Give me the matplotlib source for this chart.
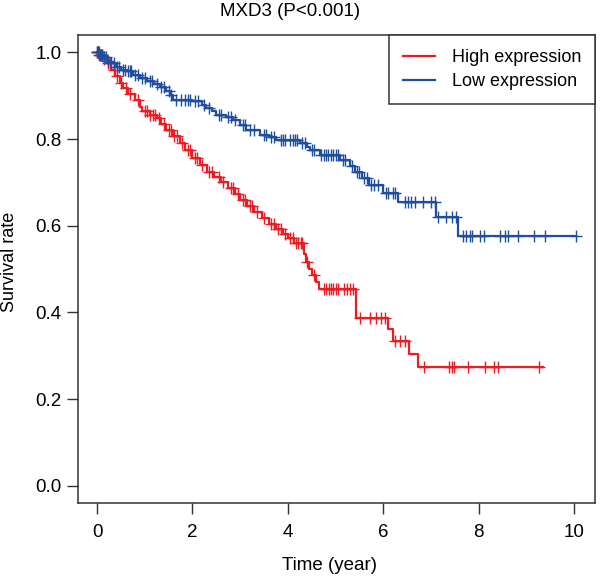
import matplotlib
matplotlib.use("Agg")
import matplotlib.pyplot as plt
import numpy as np

# --- data ---
# step curves: times of drops and survival after each drop
high_times = [0.05, 0.12, 0.2, 0.3, 0.38, 0.48, 0.55, 0.65, 0.8, 0.9, 0.95, 1.1, 1.25,
              1.35, 1.45, 1.6, 1.73, 1.85, 2.0, 2.15, 2.3, 2.45, 2.6, 2.75, 2.9, 3.0,
              3.15, 3.3, 3.45, 3.6, 3.75, 3.9, 4.0, 4.12, 4.33, 4.38, 4.45, 4.5, 4.6,
              4.65, 5.42, 6.1, 6.2, 6.54, 6.73]
high_surv = [0.995, 0.985, 0.975, 0.96, 0.945, 0.93, 0.918, 0.905, 0.891, 0.875, 0.864,
             0.855, 0.848, 0.835, 0.821, 0.806, 0.79, 0.775, 0.756, 0.74, 0.725, 0.712,
             0.7, 0.688, 0.672, 0.659, 0.645, 0.632, 0.618, 0.605, 0.592, 0.58, 0.572,
             0.561, 0.535, 0.517, 0.5, 0.486, 0.47, 0.455, 0.386, 0.362, 0.335, 0.305,
             0.275]
high_end = 9.35
high_censor = [0.0, 0.02, 0.05, 0.08, 0.1, 0.15, 0.22, 0.28, 0.35, 0.42, 0.5, 0.6, 0.7,
               0.85, 1.0, 1.05, 1.12, 1.18, 1.22, 1.3, 1.4, 1.5, 1.55, 1.62, 1.68, 1.78,
               1.9, 1.95, 2.05, 2.1, 2.2, 2.35, 2.4, 2.55, 2.65, 2.8, 2.85, 2.95, 3.05,
               3.1, 3.2, 3.25, 3.35, 3.5, 3.65, 3.7, 3.8, 3.85, 3.95, 4.05, 4.1, 4.18,
               4.22, 4.27, 4.3, 4.4, 4.55, 4.76, 4.81, 4.86, 4.9, 4.95, 5.0, 5.05, 5.18,
               5.23, 5.3, 5.37, 5.51, 5.72, 5.84, 5.96, 6.03, 6.24, 6.35, 6.45, 6.85,
               7.38, 7.44, 7.49, 7.78, 8.13, 8.32, 8.41, 9.26]

low_times = [0.05, 0.12, 0.2, 0.27, 0.4, 0.5, 0.62, 0.75, 0.9, 1.05, 1.2, 1.31, 1.45,
             1.52, 1.6, 2.0, 2.2, 2.29, 2.4, 2.5, 2.7, 2.85, 3.0, 3.13, 3.41, 3.6, 3.76,
             4.25, 4.4, 4.46, 4.67, 5.1, 5.3, 5.4, 5.55, 5.7, 6.0, 6.3, 7.1, 7.57]
low_surv = [0.995, 0.99, 0.98, 0.975, 0.967, 0.96, 0.956, 0.948, 0.941, 0.935, 0.928,
            0.921, 0.91, 0.902, 0.891, 0.887, 0.878, 0.871, 0.864, 0.856, 0.85, 0.844,
            0.832, 0.821, 0.81, 0.804, 0.798, 0.79, 0.782, 0.775, 0.763, 0.752, 0.738,
            0.724, 0.71, 0.694, 0.675, 0.655, 0.621, 0.576]
low_end = 10.05
low_censor = [0.0, 0.02, 0.04, 0.06, 0.08, 0.1, 0.14, 0.18, 0.22, 0.3, 0.35, 0.42, 0.45,
              0.55, 0.58, 0.65, 0.7, 0.72, 0.8, 0.85, 0.95, 1.0, 1.1, 1.15, 1.25, 1.35,
              1.4, 1.5, 1.55, 1.65, 1.75, 1.85, 1.9, 1.95, 2.05, 2.12, 2.25, 2.35, 2.55,
              2.6, 2.75, 2.8, 2.9, 3.05, 3.1, 3.2, 3.3, 3.5, 3.55, 3.65, 3.7, 3.85, 3.9,
              3.95, 4.05, 4.1, 4.15, 4.2, 4.3, 4.35, 4.5, 4.55, 4.7, 4.75, 4.8, 4.85,
              4.9, 4.95, 5.0, 5.05, 5.15, 5.2, 5.35, 5.45, 5.5, 5.6, 5.65, 5.75, 5.8,
              5.9, 6.05, 6.1, 6.2, 6.25, 6.45, 6.52, 6.59, 6.66, 6.83, 7.01, 7.08, 7.14,
              7.31, 7.45, 7.52, 7.67, 7.74, 7.81, 7.87, 8.02, 8.11, 8.44, 8.55, 8.62,
              8.83, 9.16, 9.39, 10.05]

labels = ["High expression", "Low expression"]
title = "MXD3 (P<0.001)"
x_ticks = [0, 2, 4, 6, 8, 10]
y_ticks = [0.0, 0.2, 0.4, 0.6, 0.8, 1.0]

RED = '#EC1C24'
BLUE = '#1F4E9E'
AXIS_COLOR = '#333333'

plt.rcParams['font.family'] = ['Liberation Sans', 'DejaVu Sans']
plt.rcParams['font.size'] = 13


def step_curve(times, surv, end):
    t = np.array([0.0] + list(times) + [end])
    s = np.array([1.0] + list(surv) + [surv[-1]])
    return t, s


def surv_at(times, surv, pts):
    t = np.array(times)
    s = np.array([1.0] + list(surv))
    idx = np.searchsorted(t, np.array(pts), side='right')
    return s[idx]


fig = plt.figure(figsize=(6.02, 5.80), dpi=100)
ax = fig.add_axes([78 / 602, 1 - 503 / 580, (595 - 78) / 602, (503 - 35) / 580])

groups = [
    (high_times, high_surv, high_end, high_censor, RED, labels[0]),
    (low_times, low_surv, low_end, low_censor, BLUE, labels[1]),
]
for times, surv, end, cens, color, lab in groups:
    t, s = step_curve(times, surv, end)
    ax.step(t, s, where='post', color=color, lw=1.6, label=lab)
    ax.plot(cens, surv_at(times, surv, cens), ls='none', marker='+',
            ms=8.5, mew=1.0, color=color)

ax.set_xlim(-0.40, 10.44)
ax.set_ylim(-0.04, 1.04)
ax.set_xticks(x_ticks)
ax.set_yticks(y_ticks)
ax.set_xticklabels([str(v) for v in x_ticks])
ax.set_yticklabels([f"{v:.1f}" for v in y_ticks])
ax.tick_params(direction='out', length=8, width=1.0, color=AXIS_COLOR, labelsize=13.5)
ax.tick_params(axis='x', pad=7)
ax.tick_params(axis='y', pad=4)
for sp in ax.spines.values():
    sp.set_color(AXIS_COLOR)
    sp.set_linewidth(1.1)

leg = ax.legend(loc='upper right', borderaxespad=0, fancybox=False, fontsize=13,
                handlelength=1.8, handletextpad=0.9, labelspacing=0.38, borderpad=0.78,
                edgecolor=AXIS_COLOR, framealpha=1)
leg.get_frame().set_linewidth(1.1)

fig.text(290 / 602, 1 - 12 / 580, title, ha='center', va='center', fontsize=13.5)
fig.text(10 / 602, 1 - 262 / 580, "Survival rate", rotation=90, ha='center',
         va='center', fontsize=13)
fig.text(330 / 602, 1 - 566 / 580, "Time (year)", ha='center', va='center',
         fontsize=13.5)

fig.savefig("out.png", dpi=100)
